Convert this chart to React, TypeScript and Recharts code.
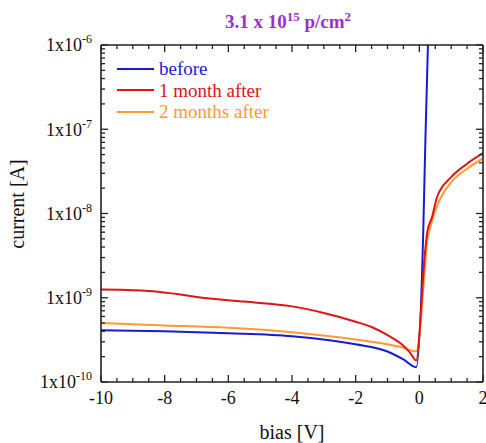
import React from 'react';
import { LineChart, Line, XAxis, YAxis, Legend } from 'recharts';

const beforeBias = [-10, -8, -6, -4, -2, -1, -0.5, -0.1, 0.12, 0.19, 0.3];
const beforeCurrent = [4.1e-10, 4.0e-10, 3.8e-10, 3.5e-10, 2.8e-10, 2.3e-10, 1.85e-10, 1.5e-10, 5.5e-9, 7.4e-8, 2.6e-6];

const month1Bias = [-10, -9, -8.5, -7.5, -7, -5.5, -4, -3, -2, -1.5, -1, -0.5, -0.3, -0.1, 0.18, 0.25, 0.4, 0.56, 1, 1.5, 2];
const month1Current = [1.25e-9, 1.23e-9, 1.2e-9, 1.09e-9, 1.02e-9, 9.0e-10, 7.9e-10, 6.6e-10, 5.2e-10, 4.5e-10, 3.6e-10, 2.7e-10, 2.25e-10, 1.8e-10, 3.5e-9, 6.0e-9, 9.1e-9, 1.58e-8, 2.7e-8, 3.9e-8, 5.2e-8];

const month2Bias = [-10, -8, -6, -4, -2, -1, -0.5, -0.1, 0.2, 0.25, 0.32, 0.45, 0.6, 1, 1.5, 2];
const month2Current = [5.0e-10, 4.7e-10, 4.4e-10, 3.9e-10, 3.2e-10, 2.8e-10, 2.55e-10, 2.3e-10, 2.9e-9, 4.8e-9, 6.3e-9, 9.5e-9, 1.35e-8, 2.35e-8, 3.4e-8, 4.5e-8];

const seriesNames = ['before', '1 month after', '2 months after'];
const seriesColors = ['#1a1ad6', '#dd1515', '#ff9a33'];

const xMajorTicks = [-10, -8, -6, -4, -2, 0, 2];
const yMajorTicks = [1e-10, 1e-9, 1e-8, 1e-7, 1e-6];
const yExponents = ['-10', '-9', '-8', '-7', '-6'];

const toRows = (bias: number[], cur: number[]) => bias.map((b, i) => ({ x: b, y: cur[i] }));
const dataBefore = toRows(beforeBias, beforeCurrent);
const data1 = toRows(month1Bias, month1Current);
const data2 = toRows(month2Bias, month2Current);

const xAllTicks: number[] = [];
for (let i = 0; i <= 24; i++) xAllTicks.push(-10 + i * 0.5);
const yAllTicks: number[] = [];
for (let d = -10; d <= -7; d++) {
  for (let m = 1; m <= 9; m++) yAllTicks.push(m * Math.pow(10, d));
}
yAllTicks.push(1e-6);

const FONT = '"Liberation Serif", "Times New Roman", serif';
const TICK_COLOR = '#222';

const isMajorX = (v: number) => xMajorTicks.some((t) => Math.abs(t - v) < 1e-9);
const majorYIndex = (v: number) => yMajorTicks.findIndex((t) => Math.abs(Math.log10(t) - Math.log10(v)) < 1e-6);

const BottomTick = (props: any) => {
  const { x, y, payload } = props;
  const major = isMajorX(payload.value);
  return (
    <g>
      <line x1={x} x2={x} y1={y} y2={y - (major ? 7 : 4)} stroke={TICK_COLOR} strokeWidth={1.3} />
      {major && (
        <text x={x} y={y + 22} textAnchor="middle" fontFamily={FONT} fontSize={18} fill="#111">
          {payload.value}
        </text>
      )}
    </g>
  );
};

const TopTick = (props: any) => {
  const { x, y, payload } = props;
  const major = isMajorX(payload.value);
  return <line x1={x} x2={x} y1={y} y2={y + (major ? 7 : 4)} stroke={TICK_COLOR} strokeWidth={1.3} />;
};

const LeftTick = (props: any) => {
  const { x, y, payload } = props;
  const idx = majorYIndex(payload.value);
  const major = idx >= 0;
  return (
    <g>
      <line x1={x} x2={x + (major ? 7 : 4)} y1={y} y2={y} stroke={TICK_COLOR} strokeWidth={1.3} />
      {major && (
        <text x={x - 9} y={y} dy="0.35em" textAnchor="end" fontFamily={FONT} fontSize={18} fill="#111">
          <tspan>1x10</tspan>
          <tspan dy={-8} fontSize={12}>{yExponents[idx]}</tspan>
        </text>
      )}
    </g>
  );
};

const RightTick = (props: any) => {
  const { x, y, payload } = props;
  const major = majorYIndex(payload.value) >= 0;
  return <line x1={x} x2={x - (major ? 7 : 4)} y1={y} y2={y} stroke={TICK_COLOR} strokeWidth={1.3} />;
};

const LegendContent = () => (
  <div style={{ fontFamily: FONT, fontSize: 19 }}>
    {seriesNames.map((n, i) => (
      <div key={n} style={{ display: 'flex', alignItems: 'center', height: 21.5, color: seriesColors[i] }}>
        <span style={{ display: 'inline-block', width: 37, height: 2, background: seriesColors[i], marginRight: 5 }} />
        <span style={{ lineHeight: '21px' }}>{n}</span>
      </div>
    ))}
  </div>
);

export default function App() {
  return (
    <div style={{ position: 'absolute', left: 0, top: 0, width: 486, height: 443, background: '#fff' }}>
      <LineChart width={486} height={443} margin={{ top: 44, right: 2, bottom: 0, left: 0 }}>
        <text x={288} y={28} textAnchor="middle" fontFamily={FONT} fontSize={19} fontWeight="bold" fill="#9b2fcf">
          <tspan>3.1 x 10</tspan>
          <tspan dy={-7} fontSize={13}>15</tspan>
          <tspan dy={7}> p/cm</tspan>
          <tspan dy={-7} fontSize={13}>2</tspan>
        </text>
        <text x={24} y={204} transform="rotate(-90 24 204)" textAnchor="middle" fontFamily={FONT} fontSize={20} fill="#111">
          current [A]
        </text>
        <text x={292} y={439} textAnchor="middle" fontFamily={FONT} fontSize={20} fill="#111">
          bias [V]
        </text>
        <XAxis
          xAxisId="bottom"
          type="number"
          dataKey="x"
          domain={[-10, 2]}
          allowDataOverflow
          ticks={xAllTicks}
          interval={0}
          tick={<BottomTick />}
          tickLine={false}
          tickSize={0}
          tickMargin={0}
          height={61}
          axisLine={{ stroke: TICK_COLOR, strokeWidth: 1.6 }}
        />
        <XAxis
          xAxisId="top"
          orientation="top"
          type="number"
          dataKey="x"
          domain={[-10, 2]}
          allowDataOverflow
          ticks={xAllTicks}
          interval={0}
          tick={<TopTick />}
          tickLine={false}
          tickSize={0}
          tickMargin={0}
          height={1}
          axisLine={{ stroke: TICK_COLOR, strokeWidth: 1.6 }}
        />
        <YAxis
          yAxisId="left"
          type="number"
          scale="log"
          dataKey="y"
          domain={[1e-10, 1e-6]}
          allowDataOverflow
          ticks={yAllTicks}
          interval={0}
          tick={<LeftTick />}
          tickLine={false}
          tickSize={0}
          tickMargin={0}
          width={101}
          axisLine={{ stroke: TICK_COLOR, strokeWidth: 1.6 }}
        />
        <YAxis
          yAxisId="right"
          orientation="right"
          type="number"
          scale="log"
          dataKey="y"
          domain={[1e-10, 1e-6]}
          allowDataOverflow
          ticks={yAllTicks}
          interval={0}
          tick={<RightTick />}
          tickLine={false}
          tickSize={0}
          tickMargin={0}
          width={1}
          axisLine={{ stroke: TICK_COLOR, strokeWidth: 1.6 }}
        />
        <Line xAxisId="top" yAxisId="right" data={dataBefore} dataKey="y" stroke="none" dot={false} isAnimationActive={false} legendType="none" />
        <Line xAxisId="bottom" yAxisId="left" type="monotone" data={dataBefore} dataKey="y" name={seriesNames[0]} stroke={seriesColors[0]} strokeWidth={2} dot={false} isAnimationActive={false} />
        <Line xAxisId="bottom" yAxisId="left" type="monotone" data={data2} dataKey="y" name={seriesNames[2]} stroke={seriesColors[2]} strokeWidth={2} dot={false} isAnimationActive={false} />
        <Line xAxisId="bottom" yAxisId="left" type="monotone" data={data1} dataKey="y" name={seriesNames[1]} stroke={seriesColors[1]} strokeWidth={2} dot={false} isAnimationActive={false} />
        <Legend
          layout="vertical"
          align="center"
          verticalAlign="middle"
          content={<LegendContent />}
          wrapperStyle={{ position: 'absolute', left: 117, top: 58, width: 'auto', height: 'auto' }}
        />
      </LineChart>
    </div>
  );
}
